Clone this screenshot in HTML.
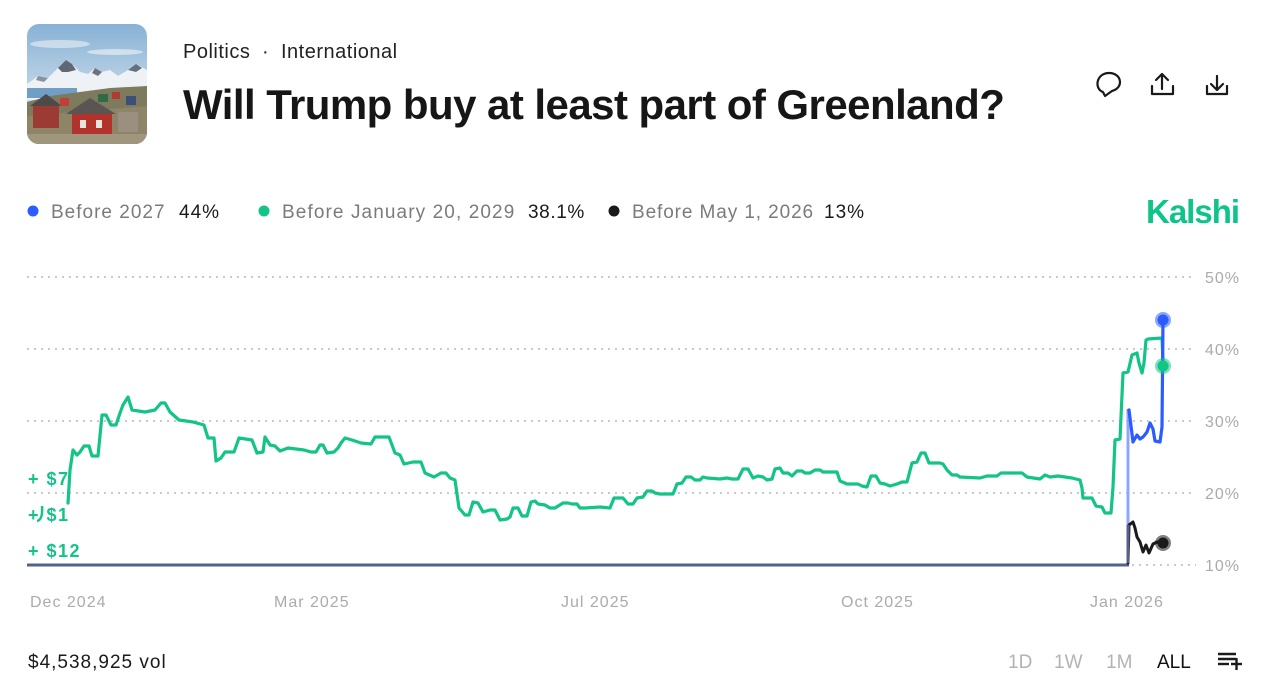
<!DOCTYPE html>
<html><head><meta charset="utf-8"><style>
html,body{margin:0;padding:0;background:#fff;}
body{width:1282px;height:687px;overflow:hidden;position:relative;font-family:"Liberation Sans",Arial,sans-serif;}
svg{position:absolute;left:0;top:0;}
</style></head><body>
<svg width="1282" height="687" viewBox="0 0 1282 687" xmlns="http://www.w3.org/2000/svg" font-family="Liberation Sans, Arial, sans-serif">
<defs>
<clipPath id="thumb"><rect x="27" y="24" width="120" height="120" rx="12" ry="12"/></clipPath>
<linearGradient id="sky" x1="0" y1="0" x2="0" y2="1">
<stop offset="0" stop-color="#88b2d6"/><stop offset="0.6" stop-color="#c4d8e8"/><stop offset="1" stop-color="#e4ecf2"/>
</linearGradient>
</defs>
<!-- thumbnail -->
<g clip-path="url(#thumb)">
<rect x="27" y="24" width="120" height="120" fill="url(#sky)"/>
<ellipse cx="60" cy="44" rx="30" ry="4" fill="#dfe8f0" opacity="0.7"/>
<ellipse cx="115" cy="52" rx="28" ry="3" fill="#e4ecf2" opacity="0.7"/>
<polygon points="27,88 27,84 38,76 48,78 58,68 66,60 72,64 80,72 88,74 95,68 102,72 110,70 118,76 128,70 136,64 147,70 147,100 27,100" fill="#eef2f6"/>
<polygon points="58,68 66,60 72,64 76,70 68,72 62,72" fill="#5f6874"/>
<polygon points="95,68 102,72 98,76 92,73" fill="#6c7480"/>
<polygon points="128,70 136,64 142,68 136,72" fill="#66707c"/>
<polygon points="38,76 48,78 44,82 36,80" fill="#8a929c"/>
<rect x="27" y="88" width="50" height="10" fill="#6f9fc4"/>
<polygon points="27,102 50,96 80,92 110,88 147,86 147,144 27,144" fill="#7d7a5e"/>
<polygon points="27,116 147,106 147,144 27,144" fill="#8e8569"/>
<rect x="33" y="104" width="26" height="24" fill="#9b3b34"/>
<polygon points="30,106 46,94 62,106" fill="#4e4a48"/>
<rect x="72" y="112" width="40" height="28" fill="#b2322c"/>
<polygon points="66,114 90,98 116,114" fill="#5a5552"/>
<rect x="80" y="120" width="6" height="8" fill="#e8e3dc"/>
<rect x="96" y="120" width="6" height="8" fill="#e8e3dc"/>
<rect x="98" y="94" width="10" height="8" fill="#2f6c44"/>
<rect x="112" y="92" width="8" height="7" fill="#b23a30"/>
<rect x="126" y="96" width="10" height="9" fill="#3a4f7a"/>
<rect x="118" y="112" width="20" height="20" fill="#9b8f80"/>
<rect x="60" y="98" width="9" height="8" fill="#c04038"/>
<rect x="27" y="134" width="120" height="10" fill="#a0967e"/>
</g>

<!-- category & title -->
<text x="183" y="58" font-size="20" fill="#222" style="letter-spacing:0.5px">Politics</text>
<text x="262" y="58" font-size="20" fill="#222">·</text>
<text x="281" y="58" font-size="20" fill="#222" style="letter-spacing:0.5px">International</text>
<text x="183" y="119" font-size="42" font-weight="bold" fill="#161616" style="letter-spacing:-0.55px">Will Trump buy at least part of Greenland?</text>

<!-- icons -->
<g fill="none" stroke="#1a1a1a" stroke-width="2.2" stroke-linecap="round" stroke-linejoin="round">
<path d="M1103,92 C1094,89 1096,73 1109,73 C1122,73 1124,88 1112,91 L1105,96 Z"/>
<path d="M1162,89 V74 M1156,80 L1162,74 L1168,80"/>
<path d="M1152,86 V94 H1173 V86"/>
<path d="M1217,76 V90 M1211,84 L1217,90 L1223,84"/>
<path d="M1207,86 V94 H1227 V86"/>
</g>

<!-- legend -->
<circle cx="33" cy="211" r="5.5" fill="#2a5cff"/>
<text x="51" y="218" font-size="19" fill="#7b7b7b" style="letter-spacing:1px">Before 2027</text>
<text x="179" y="218" font-size="19" fill="#1a1a1a" style="letter-spacing:1px">44%</text>
<circle cx="264" cy="211" r="5.5" fill="#13c487"/>
<text x="282" y="218" font-size="19" fill="#7b7b7b" style="letter-spacing:1.1px">Before January 20, 2029</text>
<text x="528" y="218" font-size="19" fill="#1a1a1a" style="letter-spacing:0.6px">38.1%</text>
<circle cx="614" cy="211" r="5.5" fill="#1a1a1a"/>
<text x="632" y="218" font-size="19" fill="#7b7b7b" style="letter-spacing:0.9px">Before May 1, 2026</text>
<text x="824" y="218" font-size="19" fill="#1a1a1a" style="letter-spacing:1px">13%</text>
<text x="1146" y="223" font-size="33" font-weight="bold" fill="#0fc48a" style="letter-spacing:-1px">Kalshi</text>

<!-- gridlines -->
<g stroke="#c9c9c9" stroke-width="2" stroke-dasharray="2 5">
<line x1="27" y1="277" x2="1196" y2="277"/>
<line x1="27" y1="349" x2="1196" y2="349"/>
<line x1="27" y1="421" x2="1196" y2="421"/>
<line x1="27" y1="493" x2="1196" y2="493"/>
<line x1="1132" y1="565" x2="1196" y2="565"/>
</g>
<g font-size="16" fill="#ababab" style="letter-spacing:1px">
<text x="1205" y="283">50%</text>
<text x="1205" y="355">40%</text>
<text x="1205" y="427">30%</text>
<text x="1205" y="499">20%</text>
<text x="1205" y="571">10%</text>
<text x="30" y="607">Dec 2024</text>
<text x="274" y="607">Mar 2025</text>
<text x="561" y="607">Jul 2025</text>
<text x="841" y="607">Oct 2025</text>
<text x="1090" y="607">Jan 2026</text>
</g>

<!-- left labels -->
<g font-size="18" font-weight="bold" fill="#13c487" style="letter-spacing:1.5px">
<text x="28" y="485">+ $7</text>
<text x="28" y="521">+ $1</text>
<text x="28" y="557">+ $12</text>
</g>
<path d="M42,506 Q43,520 37,521" fill="none" stroke="#13c487" stroke-width="2.5"/>

<!-- baseline -->
<line x1="27" y1="565" x2="1129" y2="565" stroke="#56608a" stroke-width="3"/>

<!-- green series -->
<path fill="none" stroke="#13c487" stroke-width="3.2" stroke-linejoin="round" stroke-linecap="round" d="M68,503 L70,470 L73,450 L77,455 L80,452 L84,446 L89,446 L92,456 L98,456 L102,415 L106,415 L111,425 L116,425 L120,413 L123,405 L128,397 L132,410 L145,412 L155,410 L161,403 L165,403 L170,412 L179,420 L193,422 L204,425 L208,438 L214,438 L216,461 L221,458 L225,452 L234,452 L239,438 L252,440 L257,453 L263,452 L265,437 L270,445 L275,446 L280,451 L288,448 L304,450 L311,452 L316,452 L320,445 L323,445 L327,453 L334,452 L338,448 L341,443 L345,438 L352,440 L361,443 L371,444 L375,437 L389,437 L395,453 L400,455 L404,464 L413,462 L421,462 L425,473 L434,477 L441,473 L446,473 L450,478 L455,480 L459,508 L465,515 L469,515 L473,502 L478,503 L483,512 L490,510 L495,510 L500,520 L507,519 L510,517 L513,508 L518,508 L522,516 L527,516 L531,502 L535,501 L538,504 L545,505 L550,508 L555,508 L563,503 L568,503 L572,504 L577,504 L580,508 L585,508 L600,507 L610,508 L614,498 L623,498 L628,504 L633,504 L637,498 L643,497 L647,491 L652,491 L655,493 L660,494 L673,494 L677,484 L682,483 L686,477 L691,477 L695,480 L700,480 L703,477 L707,478 L720,479 L727,478 L732,479 L738,479 L743,469 L748,469 L753,478 L758,476 L763,477 L767,480 L772,479 L775,469 L780,468 L783,473 L788,473 L792,476 L797,471 L802,471 L805,473 L810,473 L815,470 L820,470 L823,472 L837,472 L840,481 L847,484 L858,484 L862,486 L867,487 L871,476 L876,476 L880,483 L885,484 L890,486 L897,484 L902,482 L907,482 L912,463 L917,462 L921,453 L925,453 L929,463 L940,463 L943,464 L947,470 L952,475 L957,475 L960,477 L980,478 L987,476 L997,476 L1001,473 L1022,473 L1027,477 L1040,479 L1045,475 L1050,477 L1058,476 L1072,478 L1080,480 L1082,488 L1083,498 L1092,498 L1096,506 L1102,507 L1105,513 L1111,513 L1113,487 L1115,440 L1120,439 L1123,373 L1128,372 L1132,355 L1137,353 L1139,363 L1142,373 L1144,363 L1146,340 L1148,339 L1162,338 L1163,360 L1163,366"/>

<!-- blue series -->
<line x1="1128" y1="563" x2="1128" y2="409" stroke="#8ea6ff" stroke-width="3"/>
<path fill="none" stroke="#2a5cff" stroke-width="3.2" stroke-linejoin="round" stroke-linecap="round" d="M1129,410 L1133,442 L1137,435 L1140,439 L1143,437 L1147,432 L1150,423 L1153,429 L1155,441 L1160,442 L1162,427 L1163,320"/>

<!-- black series -->
<path fill="none" stroke="#1a1a1a" stroke-width="3" stroke-linejoin="round" stroke-linecap="round" d="M1128,563 L1129,525 L1133,522 L1135,528 L1137,537 L1140,542 L1143,552 L1146,545 L1149,553 L1153,544 L1157,542 L1159,543 L1163,543"/>
<line x1="1128" y1="563" x2="1128" y2="525" stroke="#56608a" stroke-width="3"/>

<!-- end dots -->
<circle cx="1163" cy="320" r="8" fill="#2a5cff" opacity="0.55"/>
<circle cx="1163" cy="320" r="5.5" fill="#2a5cff"/>
<circle cx="1163" cy="366" r="8" fill="#13c487" opacity="0.55"/>
<circle cx="1163" cy="366" r="5.5" fill="#13c487"/>
<circle cx="1163" cy="543" r="8" fill="#1a1a1a" opacity="0.55"/>
<circle cx="1163" cy="543" r="5.5" fill="#1a1a1a"/>

<!-- footer -->
<text x="28" y="668" font-size="19" fill="#1a1a1a" style="letter-spacing:1px">$4,538,925 vol</text>
<g font-size="19" fill="#b3b3b3">
<text x="1008" y="668">1D</text>
<text x="1054" y="668">1W</text>
<text x="1106" y="668">1M</text>
</g>
<text x="1157" y="668" font-size="19" fill="#111">ALL</text>
<g stroke="#1a1a1a" stroke-width="2.4" stroke-linecap="butt">
<line x1="1218" y1="654" x2="1236" y2="654"/>
<line x1="1218" y1="659" x2="1236" y2="659"/>
<line x1="1218" y1="664" x2="1229" y2="664"/>
<line x1="1231" y1="664" x2="1242" y2="664"/>
<line x1="1236.5" y1="658" x2="1236.5" y2="670"/>
</g>
</svg>
</body></html>
